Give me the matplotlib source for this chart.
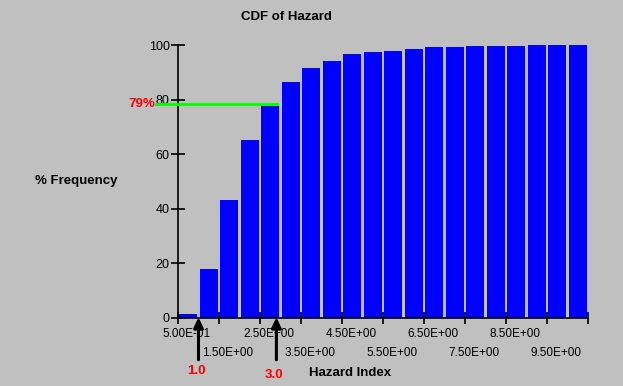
import numpy as np
import matplotlib
matplotlib.use("Agg")
import matplotlib.pyplot as plt
import matplotlib.transforms as mtransforms

# bin edges (hazard index) and cumulative % frequency
bin_left = [0.5, 1.0, 1.5, 2.0, 2.5, 3.0, 3.5, 4.0, 4.5, 5.0,
            5.5, 6.0, 6.5, 7.0, 7.5, 8.0, 8.5, 9.0, 9.5, 10.0]
cdf_pct = [1.3, 18.0, 43.3, 65.3, 77.8, 86.6, 91.7, 94.3, 96.8, 97.6,
           97.9, 98.7, 99.4, 99.4, 99.8, 99.8, 99.8, 100, 100, 100]
tick_vals = [0.5, 1.5, 2.5, 3.5, 4.5, 5.5, 6.5, 7.5, 8.5, 9.5, 10.5]
tick_labels = ["5.00E-01", "1.50E+00", "2.50E+00", "3.50E+00", "4.50E+00",
               "5.50E+00", "6.50E+00", "7.50E+00", "8.50E+00", "9.50E+00", ""]
marker_pct = 78.5
marker_label = "79%"
arrow_x = [1.0, 2.9]
arrow_labels = ["1.0", "3.0"]

plt.rcParams['font.family'] = ['Liberation Sans', 'DejaVu Sans']
bg = "#c0c0c0"

fig = plt.figure(figsize=(6.23, 3.86), dpi=100, facecolor=bg)
ax = fig.add_axes([178 / 623, 1 - 318 / 386, 410 / 623, 273 / 386], facecolor=bg)

ax.bar(np.array(bin_left) + 0.25, cdf_pct, width=0.45, color="#0000ff", zorder=2)

ax.set_xlim(0.5, 10.5)
ax.set_ylim(0, 100)
for s in ["top", "right"]:
    ax.spines[s].set_visible(False)
for s in ["left", "bottom"]:
    ax.spines[s].set_linewidth(1.2)

ax.set_yticks([0, 20, 40, 60, 80, 100])
ax.tick_params(axis="y", direction="inout", length=10, width=1.2, labelsize=9, pad=1)

# alternate two rows of x labels: even ticks as major, odd ticks as minor
ax.set_xticks(tick_vals[0::2])
ax.set_xticklabels(tick_labels[0::2])
ax.set_xticks(tick_vals[1::2], minor=True)
ax.set_xticklabels(tick_labels[1::2], minor=True)
ax.tick_params(axis="x", which="both", direction="inout", length=8, width=1.2, labelsize=8.5)
ax.tick_params(axis="x", which="major", pad=3)
ax.tick_params(axis="x", which="minor", pad=17)

# labels sit a bit right of their ticks in the original
shift = mtransforms.ScaledTranslation(9 / 100, 0, fig.dpi_scale_trans)
for lab in ax.get_xticklabels() + ax.get_xticklabels(minor=True):
    lab.set_transform(lab.get_transform() + shift)

# 79% marker line
ax.plot([-0.04, 2.92], [marker_pct, marker_pct], color="#00ff00", lw=2, clip_on=False, zorder=3)
ax.text(-0.07, marker_pct, marker_label, color="red", fontsize=9.5, fontweight="bold",
        ha="right", va="center")

# arrows
for xv, lab, dy in zip(arrow_x, arrow_labels, [0, 1.5]):
    ax.annotate("", xy=(xv, 0.3), xytext=(xv, -15.3),
                arrowprops=dict(arrowstyle="-|>,head_length=0.6,head_width=0.28",
                                color="black", lw=2.2, shrinkA=0, shrinkB=0),
                annotation_clip=False, zorder=5)
    ax.text(xv - 0.05, -19.5 - dy, lab, color="red", fontsize=9.5, fontweight="bold",
            ha="center", va="center")

fig.text(286 / 623, 1 - 17 / 386, "CDF of Hazard", fontsize=9.5, fontweight="bold",
         ha="center", va="center")
fig.text(76 / 623, 1 - 181 / 386, "% Frequency", fontsize=9.5, fontweight="bold",
         ha="center", va="center")
fig.text(350 / 623, 1 - 373 / 386, "Hazard Index", fontsize=9.5, fontweight="bold",
         ha="center", va="center")

fig.savefig("out.png", dpi=100, facecolor=bg)
